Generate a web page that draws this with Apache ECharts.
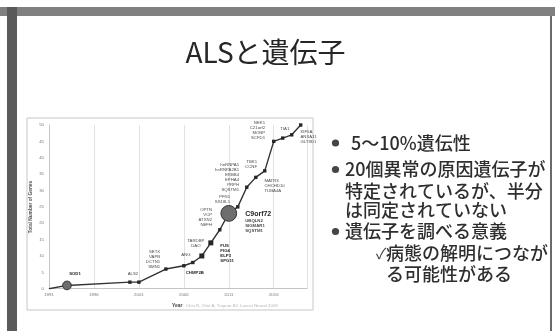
<!DOCTYPE html>
<html>
<head>
<meta charset="utf-8">
<script src="https://cdn.jsdelivr.net/npm/echarts@6/dist/echarts.min.js"></script>
<style>
  html, body { margin: 0; padding: 0; background: #fff; }
  #chart { width: 555px; height: 331px; }
</style>
</head>
<body>
<div id="chart"></div>
<script>
// Discovery timeline of ALS genes: cumulative gene count per year
const years = [1991, 1993, 2000, 2001, 2004, 2006, 2007, 2008, 2009, 2010, 2011, 2012, 2013, 2014, 2015, 2016, 2017, 2018, 2019];
const totalGenes = [0, 1, 2, 2, 6, 7, 8, 10, 14, 18, 23, 25, 31, 34, 36, 45, 46, 47, 50];
// Approximate share of familial ALS explained (%), drives bubble size
const familialShare = [0, 12, 0, 0.5, 0.5, 0.5, 0.5, 4, 4, 1, 40, 0.5, 0.5, 0.5, 0.5, 0.5, 0.5, 0.5, 0.5];
const geneLabels = [
  '', 'SOD1', '', 'ALS2', 'SETX\nVAPB\nDCTN1\nSMN1', 'ANG', 'CHMP2B',
  'TARDBP\nDAO', 'FUS\nFIG4\nELP3\nSPG11', 'OPTN\nVCP\nATXN2\nNEFH',
  'C9orf72', 'PFN1\nSS18L1', 'hnRNPA1\nhnRNPA2B1\nERBB4\nEPHA4\nPRPH\nSQSTM1',
  'MATR3\nCHCHD10\nTUBA4A', 'TBK1\nCCNF', 'NEK1\nC21orf2\nMOBP\nSCFD1',
  'TIA1', 'KIF5A\nANXA11\nGLT8D1', ''
];
const c9Companions = 'UBQLN2\nSIGMAR1\nSQSTM1';
const xTickStart = 1991, xTickStep = 5;
const yTickStep = 5, yMax = 50;

const titleText = 'ALSと遺伝子';
const bulletLines = [
  { text: '5～10%遺伝性', bullet: true },
  { text: '20個異常の原因遺伝子が', bullet: true },
  { text: '特定されているが、半分', bullet: false },
  { text: 'は同定されていない', bullet: false },
  { text: '遺伝子を調べる意義', bullet: true },
  { text: '病態の解明につなが', check: true },
  { text: 'る可能性がある', bullet: false, indent: true }
];
const yAxisTitle = 'Total Number of Genes';
const xAxisTitle = 'Year';
const sourceNote = 'Chia R, Chiò A, Traynor BJ. Lancet Neurol 2018';

// label placement for each point (style only)
const labelPlace = [
  null, ['top', [8, 1], true], null, ['top', [-6, 1], false],
  ['left', [1, -10], false], ['top', [2, -2], false], ['bottom', [2, 1], true],
  ['top', [-6, 0], false], ['right', [2, 10], true], ['left', [-1, -12], false],
  ['right', [3, 8], true], ['left', [-1, -8], false], ['left', [-1, -10], false],
  ['right', [2, 8], false], ['left', [-1, -7], false], ['left', [-2, -11], false],
  ['top', [2, 0], false], ['right', [2, 2], false], null
];

const CJK = '"Noto Sans CJK JP", "Noto Sans", sans-serif';
const LAT = '"Liberation Sans", Arial, sans-serif';

function bubbleSize(share) {
  return Math.max(3.4, 2.5 * Math.sqrt(share));
}

const points = years.map((yr, i) => {
  const item = { value: [yr, totalGenes[i]] };
  if (i === 0) { item.symbol = 'none'; item.symbolSize = 0; }
  else if (familialShare[i] >= 10) {
    item.symbol = 'circle';
    item.symbolSize = bubbleSize(familialShare[i]);
    item.itemStyle = { color: '#6e6e6e', borderColor: '#333', borderWidth: 1 };
  } else {
    item.symbol = 'rect';
    item.symbolSize = bubbleSize(familialShare[i]);
    item.itemStyle = { color: '#262626' };
  }
  const p = labelPlace[i];
  if (p && geneLabels[i]) {
    const isC9 = geneLabels[i] === 'C9orf72';
    item.label = {
      show: true,
      position: p[0],
      offset: p[1],
      formatter: isC9 ? '{big|C9orf72}\n{sm|' + c9Companions.split('\n').join('}\n{sm|') + '}' : geneLabels[i],
      fontSize: 4.3,
      lineHeight: 5,
      fontFamily: LAT,
      fontWeight: p[2] ? 'bold' : 'normal',
      color: p[2] ? '#1e1e1e' : '#4a4a4a',
      align: p[0] === 'left' ? 'right' : (p[0] === 'right' ? 'left' : 'center'),
      rich: {
        big: { fontSize: 7, fontWeight: 'bold', color: '#1e1e1e', fontFamily: LAT, lineHeight: 8 },
        sm: { fontSize: 4.3, color: '#4a4a4a', fontFamily: LAT, lineHeight: 5 }
      }
    };
  }
  return item;
});

const chart = echarts.init(document.getElementById('chart'), null, { renderer: 'canvas' });

// slide text graphics
const textGraphics = [];
const lineY = [143, 169.5, 191, 210, 231.5, 253, 274];
bulletLines.forEach((ln, i) => {
  if (ln.bullet) {
    textGraphics.push({
      type: 'circle', shape: { cx: 335.5, cy: lineY[i], r: 3.6 },
      style: { fill: '#454545' }, z: 20
    });
  }
  if (ln.check) {
    textGraphics.push({
      type: 'text', x: 376, y: lineY[i], z: 20,
      style: { text: '✓', font: '15px ' + CJK, fill: '#3a3a3a', verticalAlign: 'middle' }
    });
  }
  let x = 345;
  if (i === 0) x = 351;
  if (ln.check) x = 386;
  if (ln.indent) x = 386;
  textGraphics.push({
    type: 'text', x: x, y: lineY[i], z: 20,
    style: { text: ln.text, font: '500 18px ' + CJK, fill: '#2e2e2e', verticalAlign: 'middle' }
  });
});

chart.setOption({
  animation: false,
  backgroundColor: '#ffffff',
  grid: { left: 49, right: 248, top: 125, bottom: 42.3, containLabel: false },
  xAxis: {
    type: 'value',
    min: xTickStart, max: 2019.7, interval: xTickStep,
    axisLine: { show: true, lineStyle: { color: '#c4c4c4', width: 1 } },
    axisTick: { show: false },
    splitLine: { show: true, lineStyle: { color: '#e2e2e2', width: 1 } },
    axisLabel: {
      showMaxLabel: false,
      fontSize: 4.3, color: '#777', fontFamily: LAT, margin: 4,
      formatter: v => String(Math.round(v))
    }
  },
  yAxis: {
    type: 'value',
    min: 0, max: yMax, interval: yTickStep,
    axisLine: { show: true, lineStyle: { color: '#c4c4c4', width: 1 } },
    axisTick: { show: false },
    splitLine: { show: false },
    axisLabel: { fontSize: 4.3, color: '#777', fontFamily: LAT, margin: 5 }
  },
  series: [{
    type: 'line',
    data: points,
    lineStyle: { color: '#333', width: 1.4 },
    showAllSymbol: true,
    z: 5
  }],
  graphic: [
    // slide frame
    { type: 'rect', shape: { x: 0, y: 7, width: 555, height: 9 }, style: { fill: '#808080' }, z: 1 },
    { type: 'rect', shape: { x: 7, y: 7, width: 10, height: 324 }, style: { fill: '#5a5a5a' }, z: 1 },
    { type: 'rect', shape: { x: 550, y: 16, width: 2, height: 315 }, style: { fill: '#6a6a6a' }, z: 1 },
    // chart picture border
    { type: 'rect', shape: { x: 27, y: 118, width: 286, height: 192 },
      style: { fill: 'none', stroke: '#c6c6c6', lineWidth: 1 }, z: 1, silent: true },
    // title
    { type: 'text', x: 265.5, y: 52, z: 20,
      style: { text: titleText, font: '28px ' + CJK, fill: '#262626', align: 'center', verticalAlign: 'middle' } },
    // axis titles
    { type: 'text', x: 31, y: 207, rotation: Math.PI / 2, z: 20,
      style: { text: yAxisTitle, font: 'bold 4.8px ' + LAT, fill: '#555', align: 'center', verticalAlign: 'middle' } },
    { type: 'text', x: 172, y: 306, z: 20,
      style: { text: xAxisTitle, font: 'bold 5px ' + LAT, fill: '#444', verticalAlign: 'middle' } },
    { type: 'text', x: 186, y: 306, z: 20,
      style: { text: sourceNote, font: '4.3px ' + LAT, fill: '#b4b4b4', verticalAlign: 'middle' } }
  ].concat(textGraphics)
});
</script>
</body>
</html>
